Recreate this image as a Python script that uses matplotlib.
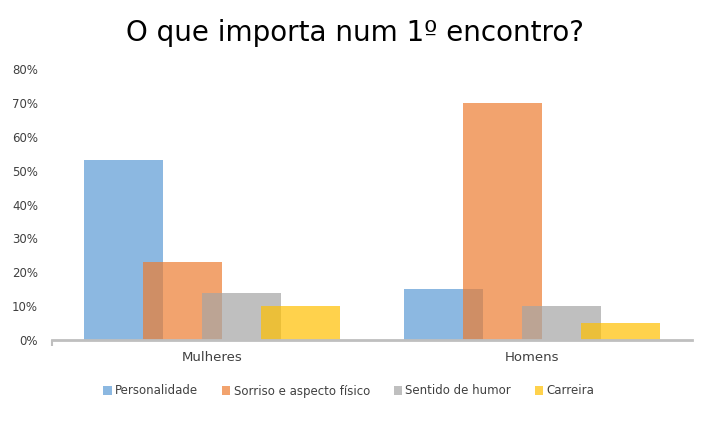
import numpy as np
import matplotlib
matplotlib.use('Agg')
import matplotlib.pyplot as plt
from matplotlib.ticker import PercentFormatter

categorias = ['Mulheres', 'Homens']
series = ['Personalidade', 'Sorriso e aspecto físico', 'Sentido de humor', 'Carreira']
personalidade = [53, 15]
sorriso = [23, 70]
humor = [14, 10]
carreira = [10, 5]
cores = ['#5B9BD5', '#ED7D31', '#A5A5A5', '#FFC000']

valores = [personalidade, sorriso, humor, carreira]

fig = plt.figure(figsize=(7.09, 4.24), dpi=100)
ax = fig.add_axes([52 / 709, 1 - 340 / 424, 640 / 709, 271 / 424])

x = np.arange(len(categorias))
largura = 0.247
passo = 0.184
for i, (nome, vals) in enumerate(zip(series, valores)):
    ax.bar(x + (i - 1.5) * passo, vals, width=largura, color=cores[i],
           alpha=0.7, label=nome, linewidth=0, zorder=2 + i)

ax.set_xlim(-0.5, 1.5)
ax.set_ylim(0, 80)
ax.set_yticks(range(0, 81, 10))
ax.yaxis.set_major_formatter(PercentFormatter(decimals=0))
ax.tick_params(axis='y', length=0, pad=10, labelsize=8.5, labelcolor='#404040')

ax.set_xticks(x)
ax.set_xticklabels(categorias)
ax.tick_params(axis='x', length=0, pad=8, labelsize=9.5, labelcolor='#404040')
ax.set_xticks([-0.5], minor=True)
ax.tick_params(axis='x', which='minor', length=4, width=1.5, color='#BFBFBF')

for s in ['top', 'right', 'left']:
    ax.spines[s].set_visible(False)
ax.spines['bottom'].set_color('#BFBFBF')
ax.spines['bottom'].set_linewidth(2)
ax.spines['bottom'].set_zorder(10)

fig.suptitle('O que importa num 1º encontro?', fontsize=20, y=1 - 33 / 424,
             va='center', color='black')

fig.legend(loc='center', bbox_to_anchor=(349 / 709, 1 - 391 / 424), ncol=4,
           frameon=False, fontsize=8.5, handlelength=0.7, handleheight=0.7,
           handletextpad=0.3, columnspacing=2.0, labelcolor='#404040')

plt.savefig('out.png', dpi=100)
plt.close()
